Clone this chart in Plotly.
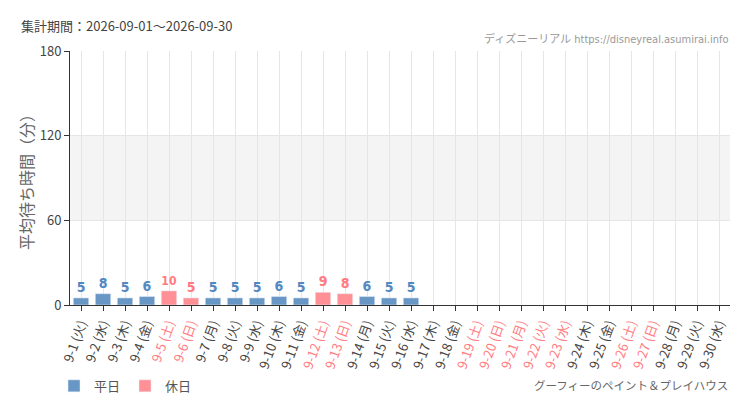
import plotly.graph_objects as go

# 集計データ（2026年9月）
days = [f"9-{d}" for d in range(1, 31)]
weekdays = (["火", "水", "木", "金", "土", "日", "月"] * 5)[:30]
holidays = [5, 6, 12, 13, 19, 20, 21, 22, 23, 26, 27]
wait_times = [5, 8, 5, 6, 10, 5, 5, 5, 5, 6, 5, 9, 8, 6, 5, 5] + [None] * 14

blue = "#6897c6"
pink = "#ff9196"
blue_text = "#5188c2"
pink_text = "#ff7b81"

labels = [f"{d} ({w})" for d, w in zip(days, weekdays)]
is_holiday = [i + 1 in holidays for i in range(30)]

tick_text = [
    f"<span style='color:{pink_text}'>{lab}</span>" if h else lab
    for lab, h in zip(labels, is_holiday)
]

weekday_vals = [v if not h else None for v, h in zip(wait_times, is_holiday)]
holiday_vals = [v if h else None for v, h in zip(wait_times, is_holiday)]

label_font = "DejaVu Sans Condensed"

fig = go.Figure()
fig.add_trace(go.Bar(
    x=labels, y=weekday_vals, name="平日", marker_color=blue, width=0.7,
    text=[str(v) if v is not None else "" for v in weekday_vals],
    textposition="outside", cliponaxis=False,
    textfont=dict(color=blue_text, size=14, family=label_font, weight="bold"),
))
fig.add_trace(go.Bar(
    x=labels, y=holiday_vals, name="休日", marker_color=pink, width=0.7,
    text=[str(v) if v is not None else "" for v in holiday_vals],
    textposition="outside", cliponaxis=False,
    textfont=dict(color=pink_text, size=14, family=label_font, weight="bold"),
))

# 60〜120分の帯
fig.add_shape(type="rect", xref="paper", yref="y", x0=0, x1=1, y0=60, y1=120,
              fillcolor="#f4f4f4", line_width=0, layer="below")

fig.update_layout(
    width=742, height=402,
    margin=dict(l=62, r=20, t=43, b=105, autoexpand=False),
    paper_bgcolor="white", plot_bgcolor="white",
    barmode="overlay",
    font=dict(family="Noto Sans CJK JP", color="#444", size=12),
    showlegend=True,
    legend=dict(orientation="h", xref="container", yref="container",
                x=0.062, y=0.06, xanchor="left", yanchor="middle",
                font=dict(size=13, color="#555"), itemwidth=30),
    annotations=[
        dict(text="集計期間：2026-09-01～2026-09-30", xref="paper", yref="paper",
             x=-0.078, y=1.102, xanchor="left", yanchor="middle", showarrow=False,
             font=dict(size=13, color="#444")),
        dict(text="ディズニーリアル https://disneyreal.asumirai.info", xref="paper", yref="paper",
             x=1.0, y=1.047, xanchor="right", yanchor="middle", showarrow=False,
             font=dict(size=11, color="#999", family="DejaVu Sans Condensed, Noto Sans CJK JP")),
        dict(text="グーフィーのペイント＆プレイハウス", xref="paper", yref="paper",
             x=1.0, y=-0.315, xanchor="right", yanchor="middle", showarrow=False,
             font=dict(size=11.5, color="#666")),
    ],
)

fig.update_xaxes(
    tickmode="array", tickvals=labels, ticktext=tick_text, tickangle=-70,
    showgrid=True, gridcolor="#e6e6e6", gridwidth=1,
    showline=True, linecolor="#333", linewidth=1,
    ticks="outside", ticklen=5, tickcolor="#333",
    tickfont=dict(size=13, color="#444"), automargin=False,
)
fig.update_yaxes(
    range=[0, 180], tickvals=[0, 60, 120, 180],
    title=dict(text="平均待ち時間（分）", font=dict(size=16, color="#666"), standoff=2),
    showgrid=True, gridcolor="#e6e6e6",
    showline=True, linecolor="#333", linewidth=1,
    ticks="outside", ticklen=5, tickcolor="#333",
    tickfont=dict(size=13, color="#444"), zeroline=False, automargin=False,
)

fig.write_html("out.html")
